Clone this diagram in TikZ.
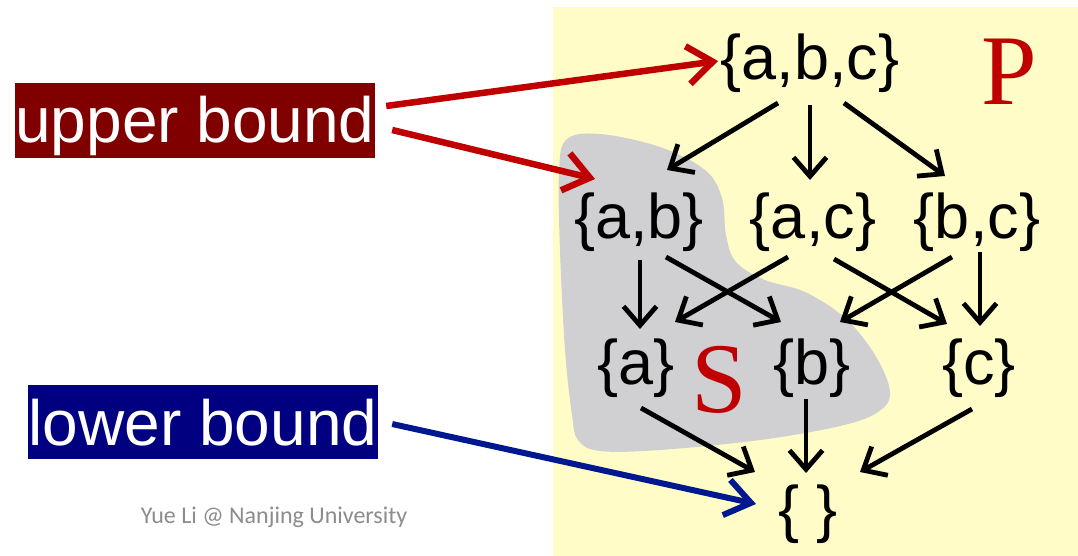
\documentclass[tikz,border=0pt]{standalone}
\usepackage{fontspec}
\setmainfont{Liberation Sans}
\newfontfamily\seriffont{Liberation Serif}
\newfontfamily\footfont{Carlito}
\usetikzlibrary{arrows.meta,calc}
\definecolor{bgyellow}{RGB}{255,252,200}
\definecolor{blobgray}{RGB}{208,207,210}
\definecolor{ubred}{RGB}{128,0,0}
\definecolor{lbblue}{RGB}{0,0,128}
\definecolor{arrred}{RGB}{192,0,0}
\definecolor{arrblue}{RGB}{0,24,143}
\definecolor{footgray}{RGB}{140,140,140}
\begin{document}
\begin{tikzpicture}[x=1pt,y=-1pt,
  setnode/.style={font=\fontsize{63}{63}\selectfont, inner sep=0pt},
  boundbox/.style={font=\fontsize{64}{64}\selectfont, text=white, inner xsep=0pt, inner ysep=0pt, text height=60pt},
  arr/.style={line width=4.8pt, -{Straight Barb[length=19pt,width=33pt]}},
  redarr/.style={line width=6.5pt, arrred, -{Straight Barb[length=25pt,width=38pt]}},
  bluearr/.style={line width=6pt, arrblue, -{Straight Barb[length=25pt,width=36pt]}},
  biglabel/.style={font=\seriffont\fontsize{100}{100}\selectfont, text=arrred, inner sep=0pt}
]
\useasboundingbox (0,0) rectangle (1078,556);
\fill[white] (0,0) rectangle (1078,556);
\fill[bgyellow] (553,7) rectangle (1078,556);
\fill[blobgray] plot[smooth cycle, tension=0.6] coordinates {
  (566,140) (600,134) (660,147) (705,170) (722,198) (726,235) (736,262)
  (765,280) (805,292) (845,318) (875,355) (890,392) (878,412) (840,426)
  (760,440) (660,450) (600,451) (578,440) (572,415) (565,350) (560,250) (559,175)};

% set nodes
\node[setnode] (abc) at (810,63) {\{a,b,c\}};
\node[setnode] (ab) at (639,222) {\{a,b\}};
\node[setnode] (ac) at (813,222) {\{a,c\}};
\node[setnode] (bc) at (977,222) {\{b,c\}};
\node[setnode] (a) at (636,368) {\{a\}};
\node[setnode] (b) at (812,368) {\{b\}};
\node[setnode] (c) at (979,368) {\{c\}};
\node[setnode] (e) at (808,514) {\{ \}};

\node[biglabel] (P) at (1009,72) {P};
\node[biglabel] (S) at (719,380) {S};

% labels
\node[boundbox, fill=ubred, minimum width=360pt, minimum height=75pt, text depth=15pt] (ub) at (195,120.5) {upper bound};
\node[boundbox, fill=lbblue, minimum width=350pt, minimum height=74pt, text depth=14pt] (lb) at (203,422) {lower bound};
\node[font=\footfont\fontsize{24}{24}\selectfont, text=footgray, inner sep=0pt] (foot) at (274,517) {Yue Li @ Nanjing University};

% Hasse arrows
\draw[arr] ([shift={(-32,40)}]abc.center) -- ([shift={(28,-52)}]ab.center);
\draw[arr] ([shift={(0,42)}]abc.center) -- ([shift={(-3,-42)}]ac.center);
\draw[arr] ([shift={(34,40)}]abc.center) -- ([shift={(-32,-46)}]bc.center);
\draw[arr] ([shift={(1,38)}]ab.center) -- ([shift={(4,-39)}]a.center);
\draw[arr] ([shift={(27,35)}]ab.center) -- ([shift={(-31,-46)}]b.center);
\draw[arr] ([shift={(-25,35)}]ac.center) -- ([shift={(39,-46)}]a.center);
\draw[arr] ([shift={(21,37)}]ac.center) -- ([shift={(-32,-44)}]c.center);
\draw[arr] ([shift={(-25,35)}]bc.center) -- ([shift={(28,-46)}]b.center);
\draw[arr] ([shift={(3,30)}]bc.center) -- ([shift={(1,-42)}]c.center);
\draw[arr] ([shift={(5,40)}]a.center) -- ([shift={(-53,-42)}]e.center);
\draw[arr] ([shift={(-6,31)}]b.center) -- ([shift={(-2,-41)}]e.center);
\draw[arr] ([shift={(-7,41)}]c.center) -- ([shift={(52,-42)}]e.center);

% bound arrows
\draw[redarr] ([shift={(11,-14.5)}]ub.east) -- ([shift={(-92,-2)}]abc.center);
\draw[redarr] ([shift={(17,9.5)}]ub.east) -- ([shift={(-44,-43)}]ab.center);
\draw[bluearr] ([shift={(14,2)}]lb.east) -- ([shift={(-52,-10)}]e.center);
\end{tikzpicture}
\end{document}
